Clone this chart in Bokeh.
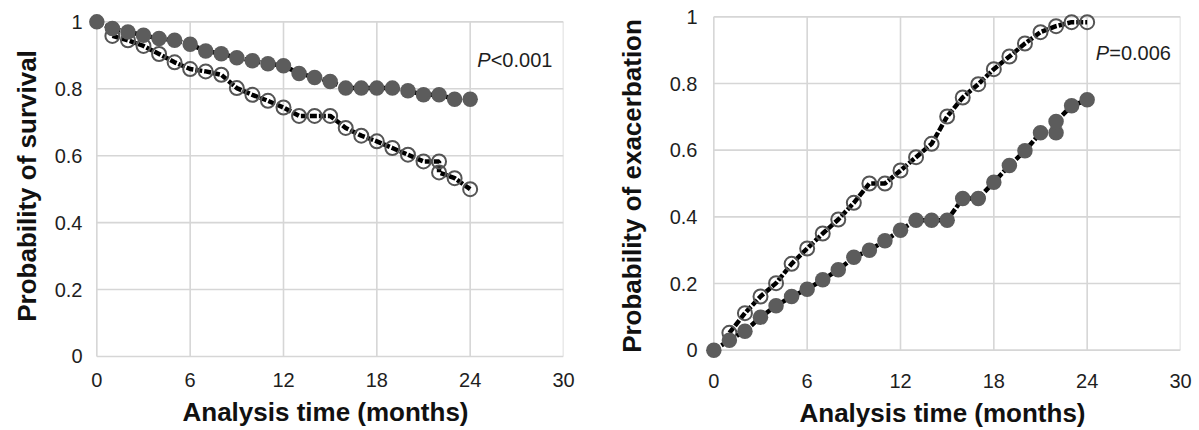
from bokeh.plotting import figure
from bokeh.models import Range1d, FixedTicker, Label
from bokeh.layouts import row
from bokeh.embed import file_html
from bokeh.resources import INLINE

# ---------------- data ----------------
x_ticks = [0, 6, 12, 18, 24, 30]
y_ticks = [0, 0.2, 0.4, 0.6, 0.8, 1]
y_tick_labels = ["0", "0.2", "0.4", "0.6", "0.8", "1"]

# Survival (left panel)
surv_gray_months = [0, 1, 2, 3, 4, 5, 6, 7, 8, 9, 10, 11, 12, 13, 14, 15, 16, 17, 18, 19, 20, 21, 22, 23, 24]
surv_gray = [1.00, 0.98, 0.97, 0.96, 0.95, 0.945, 0.933, 0.913, 0.905, 0.893, 0.884, 0.875, 0.869,
             0.846, 0.834, 0.822, 0.802, 0.802, 0.802, 0.802, 0.794, 0.782, 0.782, 0.769, 0.769]
surv_open_months = [1, 2, 3, 4, 5, 6, 7, 8, 9, 10, 11, 12, 13, 14, 15, 16, 17, 18, 19, 20, 21, 22, 22, 23, 24]
surv_open = [0.958, 0.945, 0.928, 0.904, 0.879, 0.859, 0.852, 0.842, 0.802, 0.782, 0.764, 0.744, 0.719,
             0.719, 0.719, 0.683, 0.660, 0.643, 0.623, 0.603, 0.583, 0.583, 0.550, 0.533, 0.500]

# Exacerbation (right panel)
exac_gray_months = [0, 1, 2, 3, 4, 5, 6, 7, 8, 9, 10, 11, 12, 13, 14, 15, 16, 17, 18, 19, 20, 21, 22, 22, 23, 24]
exac_gray = [0.0, 0.03, 0.057, 0.099, 0.133, 0.161, 0.183, 0.211, 0.241, 0.279, 0.300, 0.328, 0.360,
             0.390, 0.390, 0.390, 0.455, 0.455, 0.504, 0.554, 0.598, 0.652, 0.652, 0.686, 0.733, 0.751]
exac_open_months = [1, 2, 3, 4, 5, 6, 7, 8, 9, 10, 11, 12, 13, 14, 15, 16, 17, 18, 19, 20, 21, 22, 23, 24]
exac_open = [0.052, 0.111, 0.161, 0.201, 0.259, 0.305, 0.350, 0.392, 0.442, 0.500, 0.500, 0.539,
             0.579, 0.619, 0.701, 0.758, 0.798, 0.843, 0.881, 0.920, 0.954, 0.972, 0.984, 0.984]

FONT = "Liberation Sans"
GRID = "#d6d6d6"
DOT = "#5c5c5c"


def make_panel(width, height, y_range, borders, ytitle, xstand, ystand, xtitle_stand, ytitle_stand,
               gray_x, gray_y, open_x, open_y, ptext_sym, ptext_rest, p_x, p_y):
    left, right, top, bottom = borders
    p = figure(width=width, height=height, x_range=Range1d(-0.6, 30), y_range=Range1d(*y_range),
               output_backend="svg", toolbar_location=None,
               min_border_left=left, min_border_right=right,
               min_border_top=top, min_border_bottom=bottom)
    p.outline_line_color = None
    p.grid.visible = False
    p.background_fill_color = "white"

    # grid / frame box
    p.segment(x0=x_ticks, y0=[y_ticks[0]] * len(x_ticks), x1=x_ticks, y1=[y_ticks[-1]] * len(x_ticks),
              line_color=GRID, line_width=1.6)
    p.segment(x0=[x_ticks[0]] * len(y_ticks), y0=y_ticks, x1=[x_ticks[-1]] * len(y_ticks), y1=y_ticks,
              line_color=GRID, line_width=1.6)

    # open-circle series
    p.line(open_x, open_y, line_color="black", line_width=4.5, line_dash="7 2")
    p.scatter(open_x, open_y, marker="circle", size=14, fill_color=None,
              line_color="#555555", line_width=2)
    # gray filled series
    p.line(gray_x, gray_y, line_color="black", line_width=4.5, line_dash="7 2")
    p.scatter(gray_x, gray_y, marker="circle", size=15.5, fill_color=DOT, line_color=None)

    for ax in (p.xaxis[0], p.yaxis[0]):
        ax.axis_line_color = None
        ax.major_tick_line_color = None
        ax.minor_tick_line_color = None
        ax.major_tick_out = 0
        ax.major_tick_in = 0
        ax.major_label_text_font = FONT
        ax.major_label_text_font_size = "20px"
        ax.major_label_text_color = "#1e1e1e"
        ax.axis_label_text_font = FONT
        ax.axis_label_text_font_style = "bold"
        ax.axis_label_text_font_size = "26px"
        ax.axis_label_text_color = "#111111"

    p.xaxis.ticker = FixedTicker(ticks=x_ticks)
    p.yaxis.ticker = FixedTicker(ticks=y_ticks)
    p.yaxis.major_label_overrides = {t: s for t, s in zip(y_ticks, y_tick_labels)}
    p.xaxis.major_label_standoff = xstand
    p.yaxis.major_label_standoff = ystand
    p.xaxis.axis_label = "Analysis time (months)"
    p.yaxis.axis_label = ytitle
    p.xaxis.axis_label_standoff = xtitle_stand
    p.yaxis.axis_label_standoff = ytitle_stand

    p.add_layout(Label(x=p_x, y=p_y, text=ptext_sym, text_font=FONT, text_font_style="italic",
                       text_font_size="20px", text_baseline="middle", text_align="left",
                       text_color="#1e1e1e"))
    p.add_layout(Label(x=p_x, y=p_y, x_offset=13.5, text=ptext_rest, text_font=FONT,
                       text_font_size="20px", text_baseline="middle", text_align="left",
                       text_color="#1e1e1e"))
    return p


p1 = make_panel(600, 430, (-0.006, 1.025), (87, 37, 13, 72), "Probability of survival",
                14, 5, 7, 10,
                surv_gray_months, surv_gray, surv_open_months, surv_open,
                "P", "<0.001", 24.45, 0.887)
p2 = make_panel(599, 430, (-0.025, 1.01), (104, 19, 11, 72), "Probability of exacerbation",
                15, 7, 7, 20,
                exac_gray_months, exac_gray, exac_open_months, exac_open,
                "P", "=0.006", 24.55, 0.893)

layout = row(p1, p2)
open("out.html", "w").write(file_html(layout, INLINE))
